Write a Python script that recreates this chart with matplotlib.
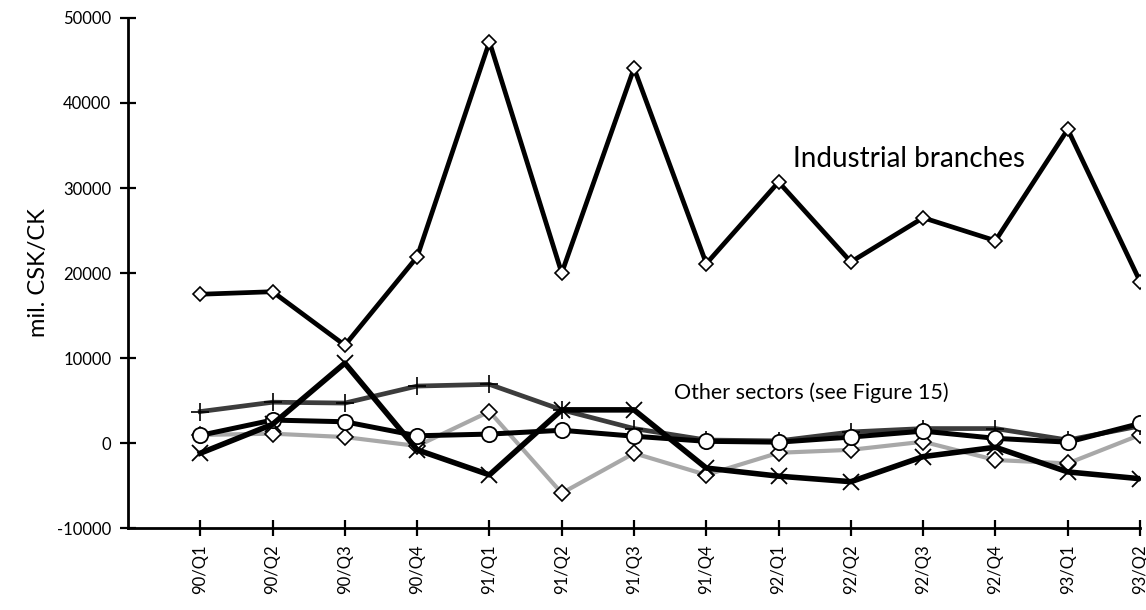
import matplotlib
matplotlib.use("Agg")
import matplotlib.pyplot as plt

quarters = ["90/Q1", "90/Q2", "90/Q3", "90/Q4", "91/Q1", "91/Q2", "91/Q3",
            "91/Q4", "92/Q1", "92/Q2", "92/Q3", "92/Q4", "93/Q1", "93/Q2"]

industrial = [17500, 17800, 11500, 21900, 47200, 20000, 44100,
              21100, 30700, 21300, 26500, 23800, 36900, 19000]
series_plus = [3700, 4800, 4700, 6700, 6900, 3900, 1700,
               350, 250, 1300, 1700, 1700, 350, 2000]
series_circle = [900, 2700, 2500, 850, 1050, 1500, 800,
                 200, 100, 700, 1400, 550, 100, 2300]
series_diamond = [950, 1100, 700, -350, 3700, -5900, -1200,
                  -3750, -1150, -800, 150, -2000, -2400, 950]
series_x = [-1200, 2200, 9400, -800, -3750, 3900, 3900,
            -2950, -3900, -4550, -1600, -500, -3400, -4200]

yticks = [-10000, 0, 10000, 20000, 30000, 40000, 50000]

plt.rcParams['font.family'] = ['Lato', 'DejaVu Sans']

fig = plt.figure(figsize=(11.46, 6.10), dpi=100)
ax = fig.add_axes([0.1117, 0.1344, 0.8831, 0.8361])

x = list(range(len(quarters)))

ax.plot(x, series_diamond, color='#a8a8a8', lw=3.0, marker='D', ms=8,
        mfc='white', mec='black', mew=1.2, zorder=3)
ax.plot(x, series_plus, color='#3c3c3c', lw=3.4, marker='+', ms=13,
        mec='black', mew=1.2, zorder=4)
ax.plot(x, series_circle, color='black', lw=3.6, marker='o', ms=11,
        mfc='white', mec='black', mew=1.3, zorder=5)
ax.plot(x, series_x, color='black', lw=4.0, marker='x', ms=12,
        mec='black', mew=1.3, zorder=6)
ax.plot(x, industrial, color='black', lw=3.4, marker='D', ms=7.5,
        mfc='white', mec='black', mew=1.2, zorder=7)

ax.set_xlim(-1, 13)
ax.set_ylim(-10000, 50000)
ax.set_yticks(yticks)
ax.set_yticklabels([str(v) if v >= 0 else "-" + str(-v) for v in yticks])
ax.set_xticks(x)
ax.set_xticklabels(quarters, rotation=90)

for s in ['top', 'right']:
    ax.spines[s].set_visible(False)
for s in ['left', 'bottom']:
    ax.spines[s].set_linewidth(2.0)
    ax.spines[s].set_color('black')

ax.tick_params(axis='both', direction='inout', length=12, width=1.6,
               labelsize=12, colors='black')
ax.tick_params(axis='y', pad=6)
ax.tick_params(axis='x', pad=6)

ax.set_ylabel("mil. CSK/CK", fontsize=17, labelpad=6)

ax.text(8.2, 33400, "Industrial branches", fontsize=20, ha='left', va='center')
ax.text(6.55, 5900, "Other sectors (see Figure 15)", fontsize=15.5,
        ha='left', va='center')

fig.savefig("out.png", dpi=100)
